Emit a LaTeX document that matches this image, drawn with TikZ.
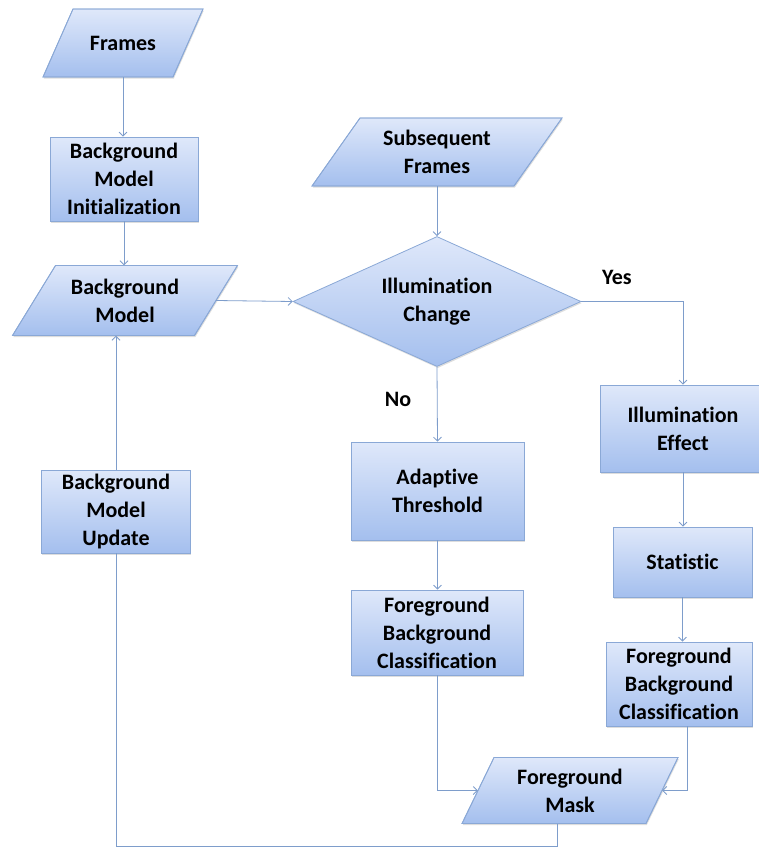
\documentclass[tikz,border=0pt]{standalone}
\usepackage{fontspec}
\setmainfont{Carlito}[Ligatures=NoCommon]
\usetikzlibrary{shapes.geometric,arrows.meta,shadows}

\definecolor{boxtop}{HTML}{DFE8FA}
\definecolor{boxbot}{HTML}{A4BFEE}
\definecolor{boxline}{HTML}{8AA8D6}
\definecolor{wire}{HTML}{7E9DCB}

\tikzset{
  flowtext/.style={font=\fontsize{22}{28}\selectfont\bfseries, align=center, text=black},
  skin/.style={top color=boxtop, bottom color=boxbot, draw=boxline, line width=0.8pt,
    drop shadow={shadow xshift=0.8pt, shadow yshift=-1.6pt, opacity=0.22, fill=black!60}},
  filled/.style={flowtext, skin, inner sep=0pt},
  procbox/.style={filled, rectangle},
  decision/.style={filled, diamond, shape aspect=2.2},
  % text holder of a data (parallelogram) shape: the band between the
  % midpoints of the two slanted sides
  iotext/.style={flowtext, rectangle, inner sep=0pt},
  link/.style={draw=wire, line width=0.8pt},
  flow/.style={link, -{Straight Barb[length=4pt,width=8pt]}},
  tag/.style={flowtext}
}

% data shape: name, centre x, centre y, side length, height, slant, text
\newcommand{\datashape}[7]{%
  \shade[skin] (#2-#4/2-#6/2, #3+#5/2) -- (#2+#4/2-#6/2, #3+#5/2)
    -- (#2+#4/2+#6/2, #3-#5/2) -- (#2-#4/2+#6/2, #3-#5/2) -- cycle;
  \draw[draw=boxline, line width=0.8pt] (#2-#4/2-#6/2, #3+#5/2) -- (#2+#4/2-#6/2, #3+#5/2)
    -- (#2+#4/2+#6/2, #3-#5/2) -- (#2-#4/2+#6/2, #3-#5/2) -- cycle;
  \node[iotext, minimum width=#4, minimum height=#5] (#1) at (#2,#3) {#7};}

\begin{document}
\begin{tikzpicture}[x=1pt, y=-1pt]
\useasboundingbox (0,0) rectangle (758,848);

% left column
\datashape{frames}{123}{43}{130}{68}{30}{Frames}
\node[procbox, minimum width=148, minimum height=84] (init) at (124,179) {Background\\Model\\Initialization};
\datashape{bgmodel}{125}{300.5}{182}{70}{43}{Background\\Model}
\node[procbox, minimum width=149, minimum height=83] (update) at (116,511.5) {Background\\Model\\Update};

% centre column
\datashape{subseq}{437}{152}{202}{68}{48}{Subsequent\\Frames}
\node[decision, minimum width=288, minimum height=130] (illum) at (437,301.5) {Illumination\\Change};
\node[procbox, minimum width=173, minimum height=98] (adapt) at (437.5,491) {Adaptive\\Threshold};
\node[procbox, minimum width=172, minimum height=85] (classA) at (437,632.5) {Foreground\\Background\\Classification};

% right column
\node[procbox, minimum width=166, minimum height=87] (effect) at (683,428.5) {Illumination\\Effect};
\node[procbox, minimum width=139, minimum height=70] (stat) at (682.5,562) {Statistic};
\node[procbox, minimum width=146, minimum height=84] (classB) at (679,684) {Foreground\\Background\\Classification};

% output
\datashape{mask}{570}{790.5}{184}{66}{32}{Foreground\\Mask}

% branch labels
\node[tag] (yes) at (617,277) {Yes};
\node[tag] (no) at (398,399) {No};

\coordinate (back) at (116,846);
\coordinate (turn) at (683,301.5);

% connectors
\draw[flow] (frames.south) -- (frames.south |- init.north);
\draw[flow] (init.south) -- (init.south |- bgmodel.north);
\draw[flow] (bgmodel.east) -- (illum.west);
\draw[flow] (subseq.south) -- (illum.north);
\draw[flow] (illum.east) -- (turn) -- (effect.north);
\draw[flow] (illum.south) -- (adapt.north);
\draw[flow] (adapt.south) -- (adapt.south |- classA.north);
\draw[flow] (effect.south) -- (effect.south |- stat.north);
\draw[flow] (stat.south) -- (stat.south |- classB.north);
\draw[flow] (classA.south) |- (mask.west);
\draw[flow] ([xshift=8pt]classB.south) |- (mask.east);
\draw[link] ([xshift=-13pt]mask.south) |- (back) -- (update.south);
\draw[flow] (update.north) -- (update.north |- bgmodel.south);
\end{tikzpicture}
\end{document}
